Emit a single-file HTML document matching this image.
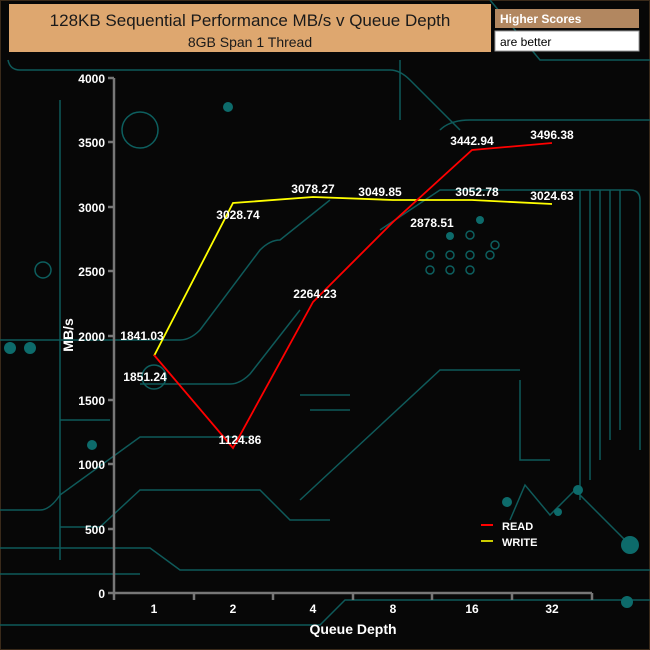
<!DOCTYPE html>
<html><head><style>
html,body{margin:0;padding:0;background:#0a0a0a;}
svg{display:block;}
text{font-family:"Liberation Sans",Arial,sans-serif;}
</style></head><body>
<svg width="650" height="650" viewBox="0 0 650 650" xmlns="http://www.w3.org/2000/svg">
<rect x="0" y="0" width="650" height="650" fill="#070707"/>
<rect x="0.5" y="0.5" width="649" height="649" fill="none" stroke="#3a2a1a" stroke-width="1"/>
<g fill="none" stroke="#0f5a5a" stroke-width="1.5">
<path d="M8 60 Q10 70 20 70 L390 70 Q400 70 410 80 L460 130"/>
<path d="M60 100 L60 560"/>
<path d="M0 340 L180 340 Q190 340 200 330 L260 250 Q270 240 280 240 L330 200"/>
<path d="M140 384 L230 384 Q240 384 250 374 L300 310"/>
<path d="M0 510 L40 510 Q50 510 60 495 L140 437 L250 437"/>
<path d="M60 527 L100 527 L140 490 L260 490 L290 520 L330 520"/>
<path d="M0 548 L150 548 L180 570 L650 570"/>
<path d="M0 574 L140 574"/>
<path d="M0 625 L320 625 L345 600 L650 600"/>
<path d="M380 230 L440 190 L630 190 Q640 190 640 200 L640 450"/>
<path d="M580 190 L580 500 M590 190 L590 480 M600 190 L600 460 M610 190 L610 440 M620 190 L620 430"/>
<path d="M440 130 Q450 120 470 120 L650 120"/>
<path d="M490 0 L540 60 L650 60"/>
<path d="M400 120 L400 60"/>
<path d="M510 520 L525 485 L550 515 L575 490 L630 545"/>
<path d="M300 500 L440 370 L520 370"/>
<path d="M520 380 L520 460 L550 460"/>
<path d="M60 420 L110 420"/>
<path d="M300 395 L350 395 M310 410 L350 410"/>
</g>
<g fill="#0d6b6b">
<circle cx="92" cy="445" r="5"/><circle cx="630" cy="545" r="9"/><circle cx="627" cy="602" r="6"/>
<circle cx="507" cy="502" r="5"/><circle cx="578" cy="490" r="5"/><circle cx="558" cy="512" r="4"/>
<circle cx="228" cy="107" r="5"/><circle cx="450" cy="236" r="4"/><circle cx="480" cy="220" r="4"/>
<circle cx="10" cy="348" r="6"/><circle cx="30" cy="348" r="6"/>
</g>
<g fill="none" stroke="#0d5f5f" stroke-width="1.5">
<circle cx="43" cy="270" r="8"/><circle cx="154" cy="377" r="12"/><circle cx="140" cy="130" r="18"/>
<circle cx="470" cy="235" r="4"/><circle cx="495" cy="245" r="4"/><circle cx="430" cy="255" r="4"/>
<circle cx="450" cy="255" r="4"/><circle cx="470" cy="255" r="4"/><circle cx="490" cy="255" r="4"/>
<circle cx="430" cy="270" r="4"/><circle cx="450" cy="270" r="4"/><circle cx="470" cy="270" r="4"/>
</g>
<rect x="9" y="4" width="482" height="48" fill="#dea76f"/>
<text x="250" y="26" text-anchor="middle" font-size="17" fill="#1a1a1a">128KB Sequential Performance MB/s v Queue Depth</text>
<text x="250" y="47" text-anchor="middle" font-size="14" fill="#1a1a1a">8GB Span 1 Thread</text>
<rect x="495" y="9" width="144" height="19" fill="#b28760"/>
<text x="500" y="23" font-size="12" font-weight="bold" fill="#fff">Higher Scores</text>
<rect x="495" y="31" width="144" height="20" fill="#fff" stroke="#999"/>
<text x="500" y="46" font-size="12" fill="#000">are better</text>
<g stroke="#777" stroke-width="2.5" fill="none">
<path d="M114 78 L114 593 L592 593"/>
<path d="M108 78 L114 78 M108 142 L114 142 M108 207 L114 207 M108 271 L114 271 M108 336 L114 336 M108 400 L114 400 M108 464 L114 464 M108 529 L114 529 M108 593 L114 593"/>
<path d="M114 593 L114 600 M194 593 L194 600 M273 593 L273 600 M353 593 L353 600 M432 593 L432 600 M512 593 L512 600 M592 593 L592 600"/>
</g>
<g font-size="12" font-weight="bold" fill="#fff" text-anchor="end">
<text x="105" y="83">4000</text><text x="105" y="147">3500</text><text x="105" y="212">3000</text>
<text x="105" y="276">2500</text><text x="105" y="341">2000</text><text x="105" y="405">1500</text>
<text x="105" y="469">1000</text><text x="105" y="534">500</text><text x="105" y="598">0</text>
</g>
<g font-size="12" font-weight="bold" fill="#fff" text-anchor="middle">
<text x="154" y="613">1</text><text x="233" y="613">2</text><text x="313" y="613">4</text>
<text x="393" y="613">8</text><text x="472" y="613">16</text><text x="552" y="613">32</text>
</g>
<text x="353" y="634" font-size="14" font-weight="bold" fill="#fff" text-anchor="middle">Queue Depth</text>
<text transform="translate(73 335) rotate(-90)" font-size="14" font-weight="bold" fill="#fff" text-anchor="middle">MB/s</text>
<polyline points="154,356 233,203 313,197 393,200 472,200 552,204" fill="none" stroke="#ffff00" stroke-width="1.8"/>
<polyline points="154,355 233,448 313,302 393,222 472,150 552,143" fill="none" stroke="#ff0000" stroke-width="1.8"/>
<g font-size="12" font-weight="bold" fill="#fff" text-anchor="middle">
<text x="142" y="340">1841.03</text><text x="145" y="381">1851.24</text>
<text x="238" y="219">3028.74</text><text x="313" y="193">3078.27</text><text x="380" y="196">3049.85</text>
<text x="477" y="196">3052.78</text><text x="552" y="200">3024.63</text>
<text x="240" y="444">1124.86</text><text x="315" y="298">2264.23</text><text x="432" y="227">2878.51</text>
<text x="472" y="145">3442.94</text><text x="552" y="139">3496.38</text>
</g>
<line x1="481" y1="525" x2="493" y2="525" stroke="#ff0000" stroke-width="2"/>
<line x1="481" y1="541" x2="493" y2="541" stroke="#cccc00" stroke-width="2"/>
<text x="502" y="530" font-size="11" font-weight="bold" fill="#fff">READ</text>
<text x="502" y="546" font-size="11" font-weight="bold" fill="#fff">WRITE</text>
</svg>
</body></html>
